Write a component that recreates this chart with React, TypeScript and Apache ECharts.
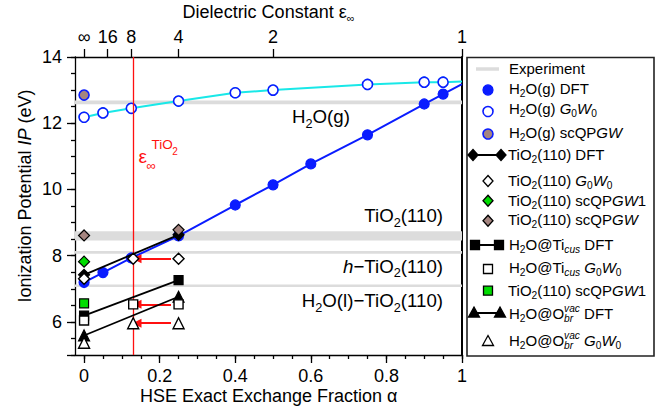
import React, { useEffect, useRef } from 'react';
import * as echarts from 'echarts';

const FONT = '"Liberation Sans", Arial, Helvetica, sans-serif';

// ---------- data (IP in eV vs. HSE exact-exchange fraction α) ----------
const alphaH2OgDFT = [0, 0.05, 0.125, 0.25, 0.4, 0.5, 0.6, 0.75, 0.9, 0.95, 1];
const ipH2OgDFT = [7.19, 7.49, 7.93, 8.6, 9.53, 10.14, 10.77, 11.65, 12.58, 12.88, 13.18];
const alphaH2OgG0W0 = [0, 0.05, 0.125, 0.25, 0.4, 0.5, 0.75, 0.9, 0.95, 1];
const ipH2OgG0W0 = [12.18, 12.31, 12.45, 12.67, 12.92, 13.0, 13.17, 13.24, 13.24, 13.26];
const alphaOnlyLine = 1; // the α = 1 points only continue the lines (no marker drawn)
const alphaZero = [0];
const ipH2OgScQPGW = [12.85];

const alphaDFT = [0, 0.25];
const alphaG0W0 = [0, 0.13, 0.25];
const ipTiO2DFT = [7.42, 8.63];
const ipTiO2G0W0 = [7.3, 7.91, 7.91];
const ipTiO2ScQPGW1 = [7.82];
const ipTiO2ScQPGW = [8.61, 8.78];
const ipTicusDFT = [6.19, 7.26];
const ipTicusG0W0 = [6.04, 6.53, 6.53];
const ipTicusScQPGW1 = [6.56];
const ipObrDFT = [5.59, 6.76];
const ipObrG0W0 = [5.37, 5.96, 5.96];

// experiment bands: H2O(g), TiO2(110), h-TiO2(110), H2O(l)-TiO2(110)
const expLow = [12.57, 8.46, 8.06, 7.05];
const expHigh = [12.69, 8.74, 8.14, 7.13];

const epsTiO2Alpha = 0.13;
const arrowFromAlpha = 0.23;
const arrowToAlpha = 0.14;
const arrowIP = [7.91, 6.53, 5.96];

// axes
const xMajorTicks = [0, 0.2, 0.4, 0.6, 0.8, 1];
const xMajorLabels = ['0', '0.2', '0.4', '0.6', '0.8', '1'];
const xMinorTicks = Array.from({ length: 21 }, (_, i) => i * 0.05);
const epsTickAlpha = [0, 1 / 16, 1 / 8, 1 / 4, 1 / 2, 1];
const epsTickLabels = ['∞', '16', '8', '4', '2', '1'];
const yMajorTicks = [5, 6, 8, 10, 12, 14];
const yLabelTicks = [6, 8, 10, 12, 14];
const yMinorTicks = Array.from({ length: 19 }, (_, i) => 5 + i * 0.5);

// ---------- styles ----------
const BLUE = '#0a1cff';
const CYAN = '#19e8e8';
const BROWN = '#a58580';
const GREEN = '#00dd00';
const BAND = '#dcdcdc';
const RED = '#ff1010';

let ctx: CanvasRenderingContext2D | null = null;
function measureText(t: string, size: number, italic: boolean): number {
  if (!ctx) ctx = document.createElement('canvas').getContext('2d');
  if (!ctx) return t.length * size * 0.55;
  ctx.font = `${italic ? 'italic ' : ''}${size}px ${FONT}`;
  return ctx.measureText(t).width;
}

type Piece = [string, string];
function textRun(pieces: Piece[], x: number, y: number, size: number, align: 'left' | 'center' | 'right', color: string, subRatio = 0.68): any[] {
  const sub = size * subRatio;
  let pending = 0;
  let cursor = 0;
  const laid: any[] = [];
  for (const [t, k] of pieces) {
    const italic = k.includes('i');
    const isSub = k.startsWith('s');
    const isSup = k.startsWith('p');
    const sz = isSub || isSup ? sub : size;
    const dy = isSub ? size * 0.36 : isSup ? -size * 0.3 : 0;
    const w = measureText(t, sz, italic);
    laid.push({ t, sz, italic, dy, x: cursor });
    if (k.endsWith('k')) {
      pending = w;
      continue;
    }
    cursor += Math.max(w, pending);
    pending = 0;
  }
  const x0 = align === 'left' ? x : align === 'center' ? x - cursor / 2 : x - cursor;
  return laid.map((p) => ({
    type: 'text',
    silent: true,
    x: x0 + p.x,
    y: y + p.dy,
    style: {
      text: p.t,
      fill: color,
      fontSize: p.sz,
      fontFamily: FONT,
      fontStyle: p.italic ? 'italic' : 'normal',
      align: 'left',
      verticalAlign: 'middle',
      textAlign: 'left',
      textVerticalAlign: 'middle',
    },
  }));
}

function marker(shape: string, cx: number, cy: number, fill: string, stroke: string, lw = 1.3): any {
  const style = { fill, stroke, lineWidth: lw };
  if (shape === 'circle') return { type: 'circle', silent: true, shape: { cx, cy, r: 5 }, style };
  if (shape === 'diamond')
    return { type: 'polygon', silent: true, shape: { points: [[cx, cy - 5.5], [cx + 5, cy], [cx, cy + 5.5], [cx - 5, cy]] }, style };
  if (shape === 'rect') return { type: 'rect', silent: true, shape: { x: cx - 4.5, y: cy - 4.5, width: 9, height: 9 }, style };
  return { type: 'polygon', silent: true, shape: { points: [[cx, cy - 5.5], [cx + 5.5, cy + 4.5], [cx - 5.5, cy + 4.5]] }, style };
}

function pts(xs: number[], ys: number[]): any[] {
  return xs.map((x, i) => (x === alphaOnlyLine ? { value: [x, ys[i]], symbol: 'none' } : [x, ys[i]]));
}

function buildOption(): any {
  const LX = 488;
  const TX = 509;
  const LS = 15;
  const legendEls: any[] = [
    { type: 'rect', silent: true, shape: { x: 467, y: 57.5, width: 187, height: 298.5 }, style: { fill: '#fff', stroke: '#222', lineWidth: 1.6 } },
    { type: 'line', silent: true, shape: { x1: 476, y1: 69, x2: 499, y2: 69 }, style: { stroke: BAND, lineWidth: 3.5 } },
    ...textRun([['Experiment', 'n']], TX, 68.5, LS, 'left', '#000'),
    marker('circle', LX, 90, BLUE, BLUE),
    ...textRun([['H', 'n'], ['2', 's'], ['O(g) DFT', 'n']], TX, 88.5, LS, 'left', '#000'),
    marker('circle', LX, 111.5, '#fff', BLUE, 1.6),
    ...textRun([['H', 'n'], ['2', 's'], ['O(g) ', 'n'], ['G', 'i'], ['0', 's'], ['W', 'i'], ['0', 's']], TX, 108.5, LS, 'left', '#000'),
    marker('circle', LX, 134, BROWN, BLUE, 1.6),
    ...textRun([['H', 'n'], ['2', 's'], ['O(g) scQP', 'n'], ['GW', 'i']], TX, 132, LS, 'left', '#000'),
    { type: 'line', silent: true, shape: { x1: 473, y1: 155, x2: 501, y2: 155 }, style: { stroke: '#000', lineWidth: 2 } },
    marker('diamond', 473, 155, '#000', '#000'),
    marker('diamond', 501, 155, '#000', '#000'),
    ...textRun([['TiO', 'n'], ['2', 's'], ['(110) DFT', 'n']], TX - 1, 154.5, LS, 'left', '#000'),
    marker('diamond', LX, 181, '#fff', '#000'),
    ...textRun([['TiO', 'n'], ['2', 's'], ['(110) ', 'n'], ['G', 'i'], ['0', 's'], ['W', 'i'], ['0', 's']], TX - 1, 180, LS, 'left', '#000'),
    marker('diamond', LX, 200.7, GREEN, '#000'),
    ...textRun([['TiO', 'n'], ['2', 's'], ['(110) scQP', 'n'], ['GW', 'i'], ['1', 'n']], TX - 1, 200, LS, 'left', '#000'),
    marker('diamond', LX, 220.7, BROWN, '#000'),
    ...textRun([['TiO', 'n'], ['2', 's'], ['(110) scQP', 'n'], ['GW', 'i']], TX - 1, 219.5, LS, 'left', '#000'),
    { type: 'line', silent: true, shape: { x1: 475, y1: 245, x2: 499, y2: 245 }, style: { stroke: '#000', lineWidth: 2 } },
    marker('rect', 475, 245, '#000', '#000'),
    marker('rect', 499, 245, '#000', '#000'),
    ...textRun([['H', 'n'], ['2', 's'], ['O@Ti', 'n'], ['cus', 'si'], [' DFT', 'n']], TX, 244, LS, 'left', '#000'),
    marker('rect', LX, 269, '#fff', '#000'),
    ...textRun([['H', 'n'], ['2', 's'], ['O@Ti', 'n'], ['cus', 'si'], [' ', 'n'], ['G', 'i'], ['0', 's'], ['W', 'i'], ['0', 's']], TX, 267.5, LS, 'left', '#000'),
    marker('rect', LX, 290.7, GREEN, '#000'),
    ...textRun([['TiO', 'n'], ['2', 's'], ['(110) scQP', 'n'], ['GW', 'i'], ['1', 'n']], TX - 1, 290, LS, 'left', '#000'),
    { type: 'line', silent: true, shape: { x1: 474, y1: 313, x2: 500, y2: 313 }, style: { stroke: '#000', lineWidth: 2 } },
    marker('triangle', 474, 312.5, '#000', '#000'),
    marker('triangle', 500, 312.5, '#000', '#000'),
    ...textRun([['H', 'n'], ['2', 's'], ['O@O', 'n'], ['vac', 'pik'], ['br', 'si'], [' DFT', 'n']], TX, 313, LS, 'left', '#000'),
    marker('triangle', LX, 341, '#fff', '#000'),
    ...textRun([['H', 'n'], ['2', 's'], ['O@O', 'n'], ['vac', 'pik'], ['br', 'si'], [' ', 'n'], ['G', 'i'], ['0', 's'], ['W', 'i'], ['0', 's']], TX, 340, LS, 'left', '#000'),
  ];

  const annot: any[] = [
    ...textRun([['H', 'n'], ['2', 's'], ['O(g)', 'n']], 292, 116.5, 18.7, 'left', '#000'),
    ...textRun([['TiO', 'n'], ['2', 's'], ['(110)', 'n']], 443, 215.5, 18.7, 'right', '#000'),
    ...textRun([['h', 'i'], ['−TiO', 'n'], ['2', 's'], ['(110)', 'n']], 443, 266, 18.7, 'right', '#000'),
    ...textRun([['H', 'n'], ['2', 's'], ['O(l)−TiO', 'n'], ['2', 's'], ['(110)', 'n']], 443, 300.5, 18.7, 'right', '#000'),
    // ε∞^TiO2 label
    ...textRun([['ε', 'n']], 138.5, 156, 19, 'left', RED),
    ...textRun([['∞', 'n']], 146.5, 165, 13, 'left', RED),
    ...textRun([['TiO', 'n']], 151.5, 144, 13.5, 'left', RED),
    ...textRun([['2', 'n']], 172.3, 151.5, 10, 'left', RED),
    // axis titles
    ...textRun([['HSE Exact Exchange Fraction α', 'n']], 268.7, 396, 18, 'center', '#000'),
    ...textRun([['Dielectric Constant ε', 'n'], ['∞', 's']], 268.5, 12, 18, 'center', '#000', 0.6),
    {
      type: 'group',
      x: 25,
      y: 196,
      rotation: Math.PI / 2,
      children: textRun([['Ionization Potential ', 'n'], ['IP', 'i'], [' (eV)', 'n']], 0, 0, 18, 'center', '#000'),
    },
  ];

  const axisLbl = { color: '#000', fontSize: 18, fontFamily: FONT };
  const black = { color: '#000', width: 1.3 };
  const xCommon = { type: 'value', min: -0.024, max: 1, gridIndex: 0, splitLine: { show: false } };
  const yCommon = { type: 'value', min: 5, max: 14, gridIndex: 0, splitLine: { show: false } };

  const lineSeries = (xs: number[], ys: number[], color: string, width: number, symbol: string, size: number, fill: string, z: number): any => ({
    type: 'line',
    data: pts(xs, ys),
    z,
    symbol,
    symbolSize: size,
    showSymbol: true,
    showAllSymbol: true,
    silent: true,
    emphasis: { disabled: true },
    lineStyle: { color, width },
    itemStyle: { color: fill, borderColor: color, borderWidth: 1.2 },
  });
  const scatterSeries = (xs: number[], ys: number[], symbol: string, size: number, fill: string, stroke: string, bw: number, z: number): any => ({
    type: 'scatter',
    data: pts(xs, ys),
    z,
    symbol,
    symbolSize: size,
    silent: true,
    emphasis: { disabled: true },
    itemStyle: { color: fill, borderColor: stroke, borderWidth: bw, opacity: 1 },
  });

  return {
    animation: false,
    textStyle: { fontFamily: FONT },
    grid: { left: 75, top: 57, width: 387, height: 298, containLabel: false, outerBoundsMode: 'none' },
    xAxis: [
      {
        ...xCommon,
        position: 'bottom',
        axisLine: { show: true, onZero: false, lineStyle: black },
        axisTick: { show: true, customValues: xMajorTicks, length: 8, lineStyle: black },
        axisLabel: {
          ...axisLbl,
          margin: 12,
          customValues: xMajorTicks,
          formatter: (v: number) => {
            const i = xMajorTicks.findIndex((t) => Math.abs(t - v) < 1e-6);
            return i >= 0 ? xMajorLabels[i] : '';
          },
        },
      },
      {
        ...xCommon,
        position: 'bottom',
        axisLine: { show: false, onZero: false },
        axisTick: { show: true, customValues: xMinorTicks, length: 4, lineStyle: black },
        axisLabel: { show: false },
      },
      {
        ...xCommon,
        position: 'top',
        axisLine: { show: true, onZero: false, lineStyle: black },
        axisTick: { show: true, customValues: epsTickAlpha, length: 8, lineStyle: black },
        axisLabel: {
          ...axisLbl,
          margin: 11,
          customValues: epsTickAlpha,
          formatter: (v: number) => {
            const i = epsTickAlpha.findIndex((t) => Math.abs(t - v) < 1e-6);
            return i >= 0 ? epsTickLabels[i] : '';
          },
        },
      },
    ],
    yAxis: [
      {
        ...yCommon,
        position: 'left',
        axisLine: { show: true, onZero: false, lineStyle: black },
        axisTick: { show: true, customValues: yMajorTicks, length: 8, lineStyle: black },
        axisLabel: { ...axisLbl, margin: 13, customValues: yLabelTicks, formatter: (v: number) => String(v) },
      },
      {
        ...yCommon,
        position: 'left',
        axisLine: { show: false, onZero: false },
        axisTick: { show: true, customValues: yMinorTicks, length: 4, lineStyle: black },
        axisLabel: { show: false },
      },
      {
        ...yCommon,
        position: 'right',
        axisLine: { show: true, onZero: false, lineStyle: { color: '#000', width: 2 } },
        axisTick: { show: false },
        axisLabel: { show: false },
      },
    ],
    graphic: [...annot, ...legendEls],
    series: [
      {
        type: 'line',
        data: [],
        z: 1,
        silent: true,
        markArea: {
          silent: true,
          itemStyle: { color: BAND },
          data: expLow.map((lo, i) => [{ yAxis: lo }, { yAxis: expHigh[i] }]),
        },
      },
      {
        type: 'line',
        data: [],
        z: 2,
        silent: true,
        markLine: {
          silent: true,
          symbol: ['none', 'none'],
          label: { show: false },
          lineStyle: { color: RED, width: 1.3, type: 'solid' },
          data: [{ xAxis: epsTiO2Alpha }],
        },
      },
      {
        type: 'scatter',
        data: [],
        z: 8,
        silent: true,
        markLine: {
          silent: true,
          symbol: ['none', 'triangle'],
          symbolSize: 9,
          label: { show: false },
          itemStyle: { color: RED },
          lineStyle: { color: RED, width: 2, type: 'solid', opacity: 1 },
          data: arrowIP.map((y) => [
            { coord: [arrowFromAlpha, y], symbol: 'none' },
            { coord: [arrowToAlpha, y], symbol: 'triangle', symbolSize: 9 },
          ]),
        },
      },
      lineSeries(alphaH2OgG0W0, ipH2OgG0W0, CYAN, 2, 'circle', 10, '#fff', 3),
      lineSeries(alphaH2OgDFT, ipH2OgDFT, BLUE, 2, 'circle', 10, BLUE, 4),
      // G0W0 circles need blue borders on a cyan line
      scatterSeries(alphaH2OgG0W0, ipH2OgG0W0, 'circle', 10, '#fff', BLUE, 1.6, 4),
      scatterSeries(alphaZero, ipH2OgScQPGW, 'circle', 10, BROWN, BLUE, 1.6, 5),
      lineSeries(alphaDFT, ipTiO2DFT, '#000', 1.8, 'diamond', 11, '#000', 5),
      lineSeries(alphaDFT, ipTicusDFT, '#000', 1.8, 'rect', 9, '#000', 5),
      lineSeries(alphaDFT, ipObrDFT, '#000', 1.8, 'triangle', 11, '#000', 5),
      scatterSeries(alphaDFT, ipTiO2ScQPGW, 'diamond', 11, BROWN, '#000', 1.2, 6),
      scatterSeries(alphaZero, ipTiO2ScQPGW1, 'diamond', 11, GREEN, '#000', 1.2, 6),
      scatterSeries(alphaZero, ipTicusScQPGW1, 'rect', 9, GREEN, '#000', 1.2, 6),
      scatterSeries(alphaG0W0, ipTiO2G0W0, 'diamond', 11, '#fff', '#000', 1.4, 7),
      scatterSeries(alphaG0W0, ipTicusG0W0, 'rect', 9, '#fff', '#000', 1.4, 7),
      scatterSeries(alphaG0W0, ipObrG0W0, 'triangle', 11, '#fff', '#000', 1.4, 7),
    ],
  };
}

export default function App() {
  const ref = useRef<HTMLDivElement>(null);
  useEffect(() => {
    if (!ref.current) return;
    const chart = echarts.init(ref.current, undefined, { renderer: 'svg' });
    chart.setOption(buildOption());
    return () => chart.dispose();
  }, []);
  return <div ref={ref} style={{ position: 'absolute', left: 0, top: 0, width: 662, height: 410, background: '#fff' }} />;
}
